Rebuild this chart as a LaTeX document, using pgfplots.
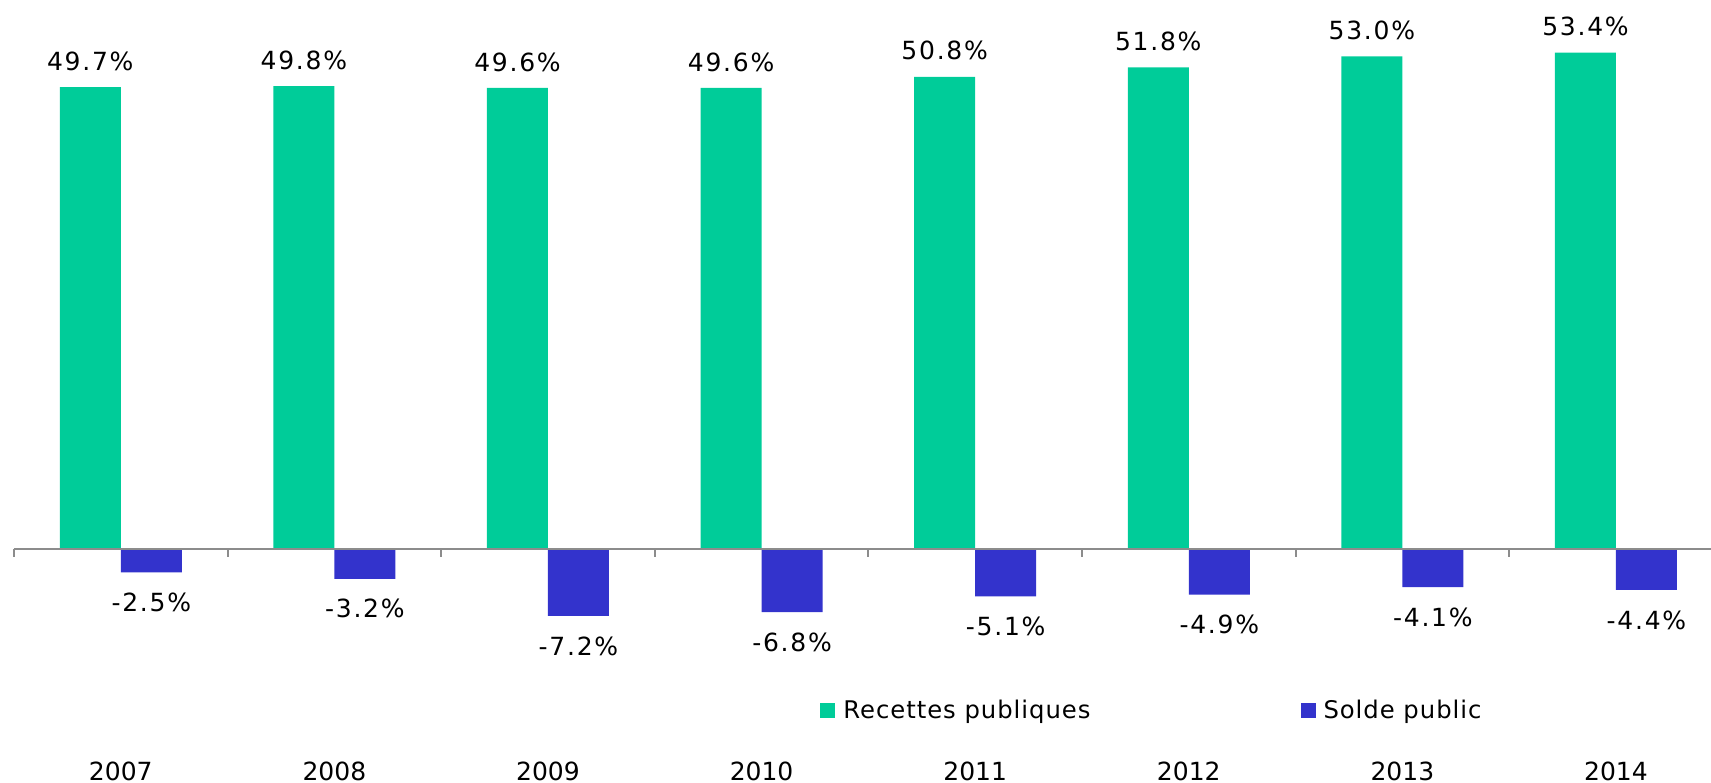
\documentclass[border=0pt]{standalone}
\usepackage{fontspec}
\setmainfont{DejaVu Sans}
\newfontfamily\lblfont[LetterSpace=7]{DejaVu Sans}
\newfontfamily\legfont[LetterSpace=4]{DejaVu Sans}
\usepackage{pgfplots}
\pgfplotsset{compat=1.18}
\definecolor{recettes}{HTML}{00CC99}
\definecolor{solde}{HTML}{3333CC}
\definecolor{axisgray}{HTML}{8C8C8C}

\begin{document}
\begin{tikzpicture}
\begin{axis}[
  scale only axis,
  width=855.5pt, height=391.5pt,
  xmin=-0.5655, xmax=7.445,
  ymin=-25.17, ymax=59.06,
  ybar=0pt, bar width=30.5pt,
  axis line style={draw=none},
  ytick=\empty,
  xtick={0,...,7},
  xticklabels={2007,2008,2009,2010,2011,2012,2013,2014},
  major tick length=0pt,
  xticklabel style={font=\fontsize{12.5}{15}\selectfont, anchor=center, yshift=6pt},
  nodes near coords={\pgfmathprintnumber[fixed,fixed zerofill,precision=1]{\pgfplotspointmeta}\%},
  every node near coord/.append style={font=\lblfont\fontsize{12.5}{15}\selectfont, text=black},
  /pgf/number format/assume math mode=true,
  legend columns=2,
  legend style={draw=none, fill=none, inner sep=0pt,
    at={(0.4792,0.0925)}, anchor=west,
    font=\legfont\fontsize{12.15}{14}\selectfont,
    nodes={inner sep=0pt},
    /tikz/every odd column/.append style={column sep=4pt},
    /tikz/every even column/.append style={column sep=105pt}},
  legend image code/.code={\fill[#1] (0pt,-3.75pt) rectangle (7.5pt,3.75pt);},
  clip=false,
]
\addplot[fill=recettes, draw=none,
  nodes near coords style={anchor=center, yshift=13pt}]
  coordinates {(0,49.7) (1,49.8) (2,49.6) (3,49.6) (4,50.8) (5,51.8) (6,53.0) (7,53.4)};
\addlegendentry{Recettes publiques}
\addplot[fill=solde, draw=none,
  nodes near coords style={anchor=center, yshift=-15pt}]
  coordinates {(0,-2.5) (1,-3.2) (2,-7.2) (3,-6.8) (4,-5.1) (5,-4.9) (6,-4.1) (7,-4.4)};
\addlegendentry{Solde public}
% axe horizontal au niveau zero
\draw[axisgray, line width=1pt] (axis cs:-0.5,0) -- (axis cs:7.445,0);
\pgfplotsinvokeforeach{-0.5,0.5,1.5,2.5,3.5,4.5,5.5,6.5}{
  \draw[axisgray, line width=1pt] (axis cs:#1,0) -- ([yshift=-4pt]axis cs:#1,0);
}
\end{axis}
\pgfresetboundingbox
\path (current axis.south west) rectangle (current axis.north east);
\end{tikzpicture}
\end{document}
